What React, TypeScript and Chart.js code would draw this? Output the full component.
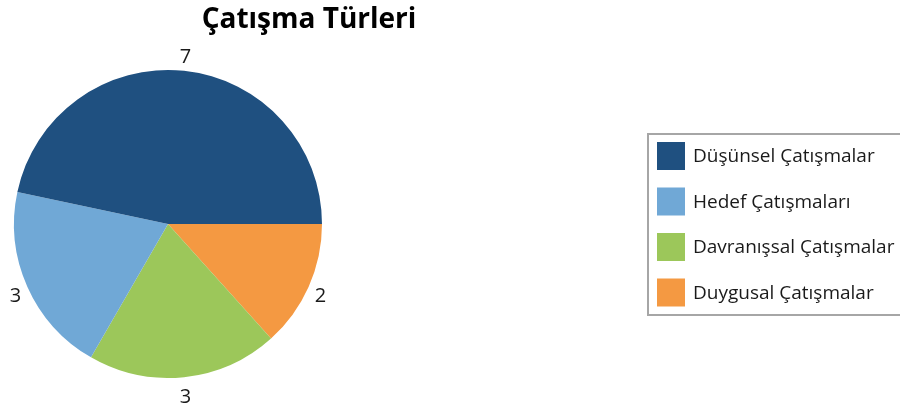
import React, { useEffect, useRef } from "react";
import { Chart, registerables } from "chart.js";

Chart.register(...registerables);

const titleText = "Çatışma Türleri";
const categories = ["Düşünsel Çatışmalar", "Hedef Çatışmaları", "Davranışsal Çatışmalar", "Duygusal Çatışmalar"];
const values = [7, 3, 3, 2];
const colors = ["#1f5080", "#70a8d6", "#9cc75a", "#f49942"];

const FONT = "'Open Sans', 'Noto Sans', sans-serif";

export default function App() {
  const ref = useRef<HTMLCanvasElement | null>(null);
  useEffect(() => {
    if (!ref.current) return;
    // draw order reversed so slices run counter-clockwise from 3 o'clock
    const dLabels = [...categories].reverse();
    const dValues = [...values].reverse();
    const dColors = [...colors].reverse();

    const overlay = {
      id: "overlay",
      afterDatasetsDraw(chart: any) {
        const ctx = chart.ctx;
        const meta = chart.getDatasetMeta(0);
        ctx.save();
        // value labels
        ctx.fillStyle = "#1a1a1a";
        ctx.font = `20px ${FONT}`;
        ctx.textAlign = "center";
        ctx.textBaseline = "middle";
        meta.data.forEach((arc: any, i: number) => {
          const p = arc.getProps(["startAngle", "endAngle", "outerRadius", "x", "y"], true);
          const mid = (p.startAngle + p.endAngle) / 2;
          const lx = p.x + Math.cos(mid) * (p.outerRadius + 13);
          const ly = p.y + Math.sin(mid) * (p.outerRadius + 17) + 3;
          ctx.fillText(String(chart.data.datasets[0].data[i]), lx, ly);
        });
        // title
        ctx.font = `bold 28px ${FONT}`;
        ctx.fillStyle = "#000";
        ctx.textBaseline = "alphabetic";
        ctx.fillText(titleText, 309, 28);
        // legend
        ctx.strokeStyle = "#a6a6a6";
        ctx.lineWidth = 2;
        ctx.strokeRect(648, 134, 260, 181);
        ctx.font = `19px ${FONT}`;
        ctx.textAlign = "left";
        ctx.textBaseline = "middle";
        categories.forEach((c, i) => {
          const y = 142 + i * 45.5;
          ctx.fillStyle = colors[i];
          ctx.fillRect(657, y, 28, 28);
          ctx.fillStyle = "#1a1a1a";
          ctx.fillText(c, 693, y + 15);
        });
        ctx.restore();
      },
    };

    const chart = new Chart(ref.current, {
      type: "pie",
      data: {
        labels: dLabels,
        datasets: [{ data: dValues, backgroundColor: dColors, borderWidth: 0 }],
      },
      options: {
        animation: false,
        responsive: false,
        rotation: 90,
        layout: { padding: { left: 14, right: 578, top: 70, bottom: 34 } },
        plugins: { legend: { display: false }, title: { display: false }, tooltip: { enabled: false } },
      },
      plugins: [overlay],
    });
    return () => chart.destroy();
  }, []);
  return (
    <div style={{ position: "fixed", left: 0, top: 0, width: 900, height: 412, background: "#fff" }}>
      <canvas ref={ref} width={900} height={412} style={{ width: 900, height: 412 }} />
    </div>
  );
}
